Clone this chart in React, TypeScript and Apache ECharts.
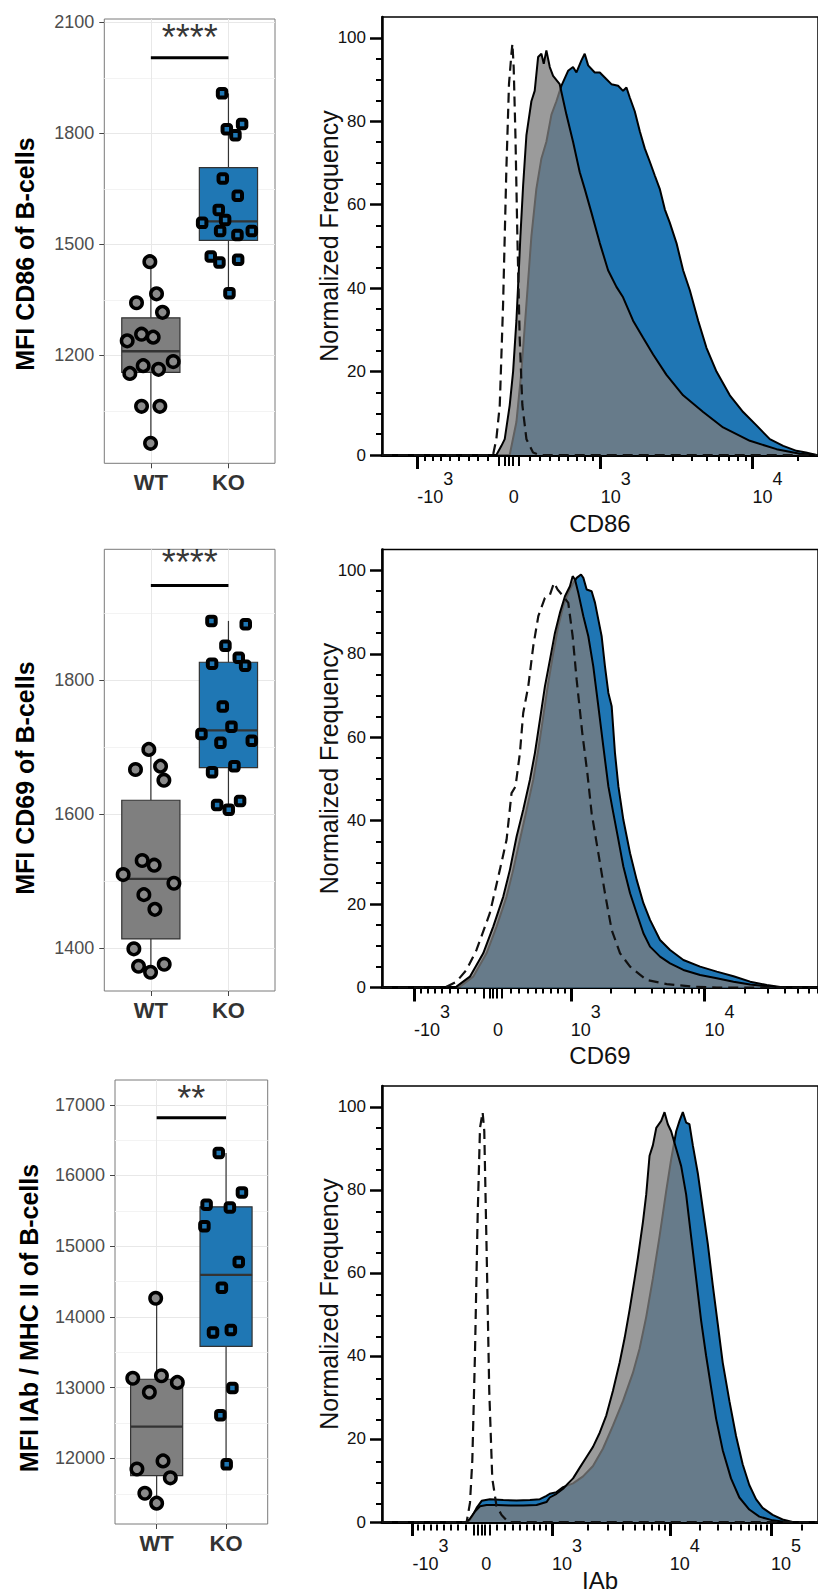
import React, { useEffect, useRef } from 'react';
import * as echarts from 'echarts';

const FONT = '"Liberation Sans", Arial, Helvetica, sans-serif';

// ---------- Box plot data (MFI values, jitter offsets in category units) ----------
const groups = ['WT', 'KO'];

const cd86WT = [1453, 1366, 1342, 1316, 1257, 1239, 1249, 1183, 1172, 1151, 1162, 1062, 1062, 962];
const cd86WTJitter = [-0.013, 0.073, -0.185, 0.15, -0.12, -0.305, 0.03, 0.288, -0.099, -0.271, 0.099, -0.12, 0.116, -0.004];
const cd86KO = [1908, 1811, 1825, 1795, 1678, 1631, 1593, 1558, 1566, 1536, 1525, 1536, 1467, 1451, 1458, 1368];
const cd86KOJitter = [-0.082, -0.021, 0.176, 0.09, -0.073, 0.12, -0.125, -0.339, -0.043, -0.107, 0.116, 0.301, -0.228, -0.116, 0.125, 0.013];

const cd69WT = [1697, 1667, 1672, 1651, 1531, 1524, 1510, 1497, 1480, 1458, 1399, 1373, 1364, 1376];
const cd69WTJitter = [-0.026, -0.198, 0.125, 0.168, -0.112, 0.043, -0.357, 0.297, -0.09, 0.052, -0.219, -0.159, -0.004, 0.172];
const cd69KO = [1889, 1884, 1852, 1825, 1834, 1822, 1761, 1720, 1731, 1707, 1710, 1672, 1663, 1614, 1620, 1607];
const cd69KOJitter = [-0.219, 0.223, -0.039, -0.211, 0.133, 0.215, -0.073, -0.348, 0.039, -0.103, 0.301, 0.077, -0.211, -0.146, 0.15, 0.004];

const iabWT = [14264, 13134, 13169, 13075, 12935, 11851, 11965, 11726, 11508, 11368];
const iabWTJitter = [-0.014, -0.344, 0.069, 0.298, -0.105, -0.284, 0.092, 0.197, -0.17, 0];
const iabKO = [16318, 15761, 15587, 15547, 15284, 14776, 14413, 13781, 13816, 12995, 12612, 11916];
const iabKOJitter = [-0.105, 0.229, -0.28, 0.055, -0.312, 0.183, -0.06, -0.188, 0.069, 0.092, -0.082, 0.009];

const cd86YTicks = [1200, 1500, 1800, 2100];
const cd86YMinor = [1050, 1350, 1650, 1950];
const cd69YTicks = [1400, 1600, 1800];
const cd69YMinor = [1500, 1700, 1900];
const iabYTicks = [12000, 13000, 14000, 15000, 16000, 17000];
const iabYMinor = [11500, 12500, 13500, 14500, 15500, 16500];

const sigLabels = ['****', '****', '**'];
const sigBarY = [2004, 1942, 16816];
const sigTextY = [2060, 1977, 17082];

// ---------- Histogram data: [display channel, normalized frequency] ----------
const cd86Ctrl = [[0, 0], [114.1, 0], [117.5, 3.8], [121.0, 11.9], [124.4, 36], [127.8, 68.6], [130.5, 89], [133.0, 96.2], [134.0, 98.6], [135.3, 93], [137.1, 76.7], [139.1, 52.4], [141.5, 28], [144.2, 12], [148.4, 3.8], [155.2, 0.6], [162.1, 0], [448, 0]];
const cd86WTHist = [[117.5, 0], [122.7, 2.2], [126.1, 3.8], [131.2, 11.9], [134.7, 20.0], [138.1, 32.2], [139.8, 40.3], [142.2, 52.4], [145.0, 64.6], [148.4, 76.7], [153.5, 84.8], [156.9, 87.3], [160.4, 95.4], [163.8, 96.2], [166.2, 93.8], [168.9, 97.0], [172.4, 93.0], [175.8, 90.9], [182.6, 88.9], [189.5, 81.6], [196.3, 75.1], [203.2, 67.8], [208.3, 63.8], [215.2, 58.1], [223.8, 50.8], [232.3, 44.3], [240.9, 40.3], [247.7, 37.8], [258.0, 32.2], [268.3, 28.1], [278.6, 24.1], [292.3, 19.2], [309.4, 14.3], [330.0, 10.3], [350.5, 6.6], [378.0, 3.4], [405.4, 1.4], [429.4, 0.3], [446.5, 0]];
const cd86KOHist = [[131.2, 0], [138.1, 7.9], [143.2, 20.0], [148.4, 36.2], [153.5, 52.4], [158.6, 63.8], [163.8, 71.1], [168.9, 75.1], [174.1, 81.6], [179.2, 84.8], [184.3, 88.5], [191.2, 92.1], [196.3, 93.0], [199.8, 91.7], [204.9, 94.6], [208.3, 96.2], [211.8, 93.4], [218.6, 91.7], [223.8, 91.7], [228.9, 90.5], [235.7, 88.9], [242.6, 88.5], [247.7, 87.3], [251.2, 88.1], [254.6, 85.7], [259.7, 82.4], [264.9, 77.6], [270.0, 73.5], [275.2, 70.3], [280.3, 67.0], [285.4, 63.8], [290.6, 58.9], [295.7, 55.7], [302.6, 50.8], [309.4, 44.3], [316.3, 39.5], [324.9, 32.2], [333.4, 25.7], [343.7, 20.0], [357.4, 14.3], [371.1, 10.3], [384.8, 7.1], [398.5, 3.8], [412.2, 2.2], [425.9, 1.0], [435.5, 0.6], [446.5, 0]];

const cd69Ctrl = [[0, 0], [59.4, 0], [66.3, 0.2], [76.5, 1.4], [86.8, 4.2], [97.1, 9.0], [110.8, 17.8], [121.1, 28.2], [128.0, 35.4], [133.1, 46.6], [137.2, 48.2], [141.7, 56.2], [145.1, 65.8], [150.3, 72.2], [155.4, 81.8], [160.6, 89.0], [167.4, 93.4], [172.6, 94.2], [176.7, 97.0], [180.4, 95.4], [186.3, 93.8], [191.4, 92.2], [195.9, 84.2], [200.0, 73.8], [205.8, 61.0], [211.0, 51.4], [215.4, 41.8], [222.3, 32.2], [229.1, 22.6], [236.0, 13.8], [244.6, 8.2], [254.9, 5.0], [272.0, 1.8], [292.6, 0.8], [320.0, 0.2], [344.0, 0], [448, 0]];
const cd69WTHist = [[69.7, 0], [76.5, 0.2], [90.3, 2.6], [104.0, 8.2], [114.3, 14.6], [124.6, 21.8], [131.4, 28.2], [138.3, 36.2], [145.1, 42.6], [152.0, 49.8], [157.1, 56.2], [162.3, 64.2], [167.4, 72.2], [172.6, 78.6], [177.7, 85.0], [182.8, 89.8], [188.0, 93.8], [193.1, 96.2], [195.9, 98.6], [198.3, 97.8], [201.7, 94.6], [206.9, 89.0], [212.0, 84.2], [217.1, 77.0], [222.3, 67.4], [227.4, 57.8], [232.6, 48.2], [237.7, 41.8], [242.9, 35.4], [248.0, 29.0], [254.9, 22.6], [261.7, 17.8], [268.6, 13.0], [275.4, 9.8], [285.7, 7.4], [296.0, 5.8], [309.7, 4.2], [326.9, 3.0], [344.0, 2.2], [361.2, 1.4], [378.3, 0.7], [395.4, 0.3], [412.6, 0]];
const cd69KOHist = [[73.1, 0], [80.0, 0.2], [93.7, 2.6], [107.4, 8.2], [117.7, 14.6], [128.0, 21.8], [134.8, 28.2], [141.7, 35.4], [148.6, 42.6], [155.4, 49.8], [160.6, 57.0], [165.7, 65.0], [170.8, 73.0], [176.0, 80.2], [181.1, 86.6], [186.3, 91.4], [191.4, 94.6], [196.6, 97.0], [200.0, 98.2], [204.5, 99.0], [206.9, 98.2], [210.3, 95.4], [215.4, 95.0], [218.9, 92.2], [222.3, 88.2], [225.7, 84.2], [229.1, 77.0], [232.6, 70.6], [236.0, 67.4], [239.4, 56.2], [242.9, 48.2], [248.0, 40.2], [254.9, 32.2], [261.7, 25.8], [268.6, 20.2], [275.4, 16.2], [285.7, 11.4], [296.0, 9.0], [309.7, 6.6], [326.9, 5.0], [344.0, 3.8], [361.2, 2.7], [378.3, 1.4], [395.4, 0.6], [412.6, 0]];

const iabCtrl = [[0, 0], [87.0, 0], [90.4, 4.6], [92.8, 14.8], [95.5, 40.1], [98.3, 73.8], [100.7, 94.9], [103.4, 98.7], [105.1, 94.1], [107.5, 65.4], [110.2, 31.6], [113.3, 10.5], [117.7, 3.8], [122.9, 1.7], [129.7, 0], [448, 0]];
const iabWTHist = [[87.0, 0], [90.4, 0.8], [95.5, 2.5], [100.7, 3.8], [107.5, 4.1], [117.7, 4.1], [131.4, 4.0], [145.1, 4.0], [158.8, 4.1], [169.0, 4.8], [172.4, 5.9], [179.3, 6.8], [186.1, 8.0], [191.2, 9.3], [196.3, 10.5], [203.2, 13.1], [210.0, 15.6], [216.8, 18.1], [223.7, 21.5], [230.5, 25.7], [237.3, 31.6], [244.2, 38.4], [249.3, 44.3], [254.4, 51.1], [259.6, 58.6], [263.0, 63.7], [268.1, 72.2], [271.5, 78.9], [274.9, 88.2], [278.3, 90.7], [281.8, 94.9], [286.9, 96.6], [290.3, 98.7], [293.7, 95.8], [297.1, 94.1], [302.3, 89.9], [307.4, 85.7], [312.5, 78.9], [317.6, 68.8], [322.8, 58.6], [327.9, 48.5], [333.0, 40.1], [338.1, 32.5], [343.3, 24.9], [350.1, 17.3], [358.6, 10.5], [367.2, 5.9], [377.4, 3.0], [387.7, 1.3], [401.4, 0.4], [415.0, 0]];
const iabKOHist = [[88.7, 0], [92.1, 1.1], [97.2, 3.4], [102.4, 5.1], [110.9, 5.5], [124.6, 5.3], [138.3, 5.2], [152.0, 5.3], [162.2, 5.5], [169.0, 6.3], [172.4, 6.8], [179.3, 7.2], [186.1, 8.4], [196.3, 9.3], [206.6, 11.0], [216.8, 13.5], [227.1, 17.7], [237.3, 23.2], [247.6, 29.1], [257.8, 35.9], [264.7, 41.8], [271.5, 49.4], [278.3, 58.6], [285.2, 68.8], [292.0, 79.7], [297.1, 87.3], [302.3, 94.1], [305.7, 96.6], [309.1, 98.7], [312.5, 96.2], [315.9, 95.8], [319.4, 90.7], [324.5, 84.0], [329.6, 75.5], [334.7, 67.1], [339.9, 57.0], [345.0, 47.7], [350.1, 38.4], [357.0, 29.1], [363.8, 20.7], [370.6, 13.9], [377.4, 8.9], [384.3, 5.5], [391.1, 3.4], [401.4, 1.7], [411.6, 0.6], [421.9, 0]];

// Major tick channels: -10^3, 0, 10^3, 10^4, (10^5)
const cd86TickPos = [36.3, 130.3, 224.7, 380.7];
const cd69TickPos = [33, 114, 194, 331.3];
const iabTickPos = [31.3, 102, 174.7, 295.7, 399.7];
const cd86TickLabels = ['-10^3', '0', '10^3', '10^4'];
const cd69TickLabels = ['-10^3', '0', '10^3', '10^4'];
const iabTickLabels = ['-10^3', '0', '10^3', '10^4', '10^5'];
const freqTicks = [0, 20, 40, 60, 80, 100];
const freqMinor = [5, 10, 15, 25, 30, 35, 45, 50, 55, 65, 70, 75, 85, 90, 95];

const CH_MAX = 448;

// ---------- helpers ----------
function boxStats(values: number[]) {
  const s = [...values].sort((a, b) => a - b);
  const q = (p: number) => {
    const h = (s.length - 1) * p;
    const lo = Math.floor(h);
    const hi = Math.min(lo + 1, s.length - 1);
    return s[lo] + (h - lo) * (s[hi] - s[lo]);
  };
  const q1 = q(0.25), med = q(0.5), q3 = q(0.75), iqr = q3 - q1;
  const lo = Math.min(...s.filter((v) => v >= q1 - 1.5 * iqr));
  const hi = Math.max(...s.filter((v) => v <= q3 + 1.5 * iqr));
  return [lo, q1, med, q3, hi];
}

const linFrac = (v: number) => Math.asinh(v / 1000) / Math.asinh(1);

function minorTicks(pos: number[]) {
  const [m1, z, p1, ...decs] = pos;
  const res: number[] = [];
  for (let v = 200; v <= 900; v += 100) {
    res.push(z + (p1 - z) * linFrac(v));
    res.push(z - (z - m1) * linFrac(v));
  }
  const dp = [p1, ...decs];
  const w = dp[dp.length - 1] - dp[dp.length - 2];
  while (dp[dp.length - 1] < CH_MAX) dp.push(dp[dp.length - 1] + w);
  for (let i = 0; i < dp.length - 1; i++) {
    const d = dp[i + 1] - dp[i];
    for (let m = 2; m <= 9; m++) res.push(dp[i] + d * Math.log10(m));
  }
  return res.filter((c) => c > 0 && c < CH_MAX);
}

function clusterTicks(pos: number[]) {
  const [m1, z, p1] = pos;
  const res = [z];
  [40, 100].forEach((v) => {
    res.push(z + (p1 - z) * linFrac(v));
    res.push(z - (z - m1) * linFrac(v));
  });
  return res;
}

function supLabel(s: string) {
  const [base, exp] = s.split('^');
  if (!exp) return `{e|\u00a0}\n{b|${base}}`;
  const st = base.startsWith('-') ? 'sn' : 'sp';
  return `{${st}|${exp}}\n{b|${base}}`;
}

const supRich = {
  b: { fontSize: 18, lineHeight: 18, color: '#111', fontFamily: FONT },
  e: { fontSize: 18, lineHeight: 18, color: '#111', fontFamily: FONT },
  sn: { fontSize: 18, lineHeight: 18, color: '#111', fontFamily: FONT, padding: [0, 0, 0, 26] },
  sp: { fontSize: 18, lineHeight: 18, color: '#111', fontFamily: FONT, padding: [0, 0, 0, 20] },
};

function buildOption() {
  const grids: any[] = [];
  const xAxes: any[] = [];
  const yAxes: any[] = [];
  const series: any[] = [];
  const addGrid = (rect: any, x: any, y: any) => {
    grids.push(rect);
    const gi = grids.length - 1;
    xAxes.push({ ...x, gridIndex: gi });
    yAxes.push({ ...y, gridIndex: gi });
    return gi;
  };
  const hiddenX = (min: number, max: number) => ({ type: 'value', min, max, show: false });

  const boxRow = (cfg: any) => {
    const { rect, yMin, yMax, majors, minors, title, titleGap, titleShift, wt, wtJ, ko, koJ, idx } = cfg;
    addGrid({ ...rect, show: false }, hiddenX(0.4, 2.6), {
      type: 'value', min: yMin, max: yMax,
      axisLine: { show: false }, axisTick: { show: false, customValues: minors },
      axisLabel: { show: false },
      splitLine: { show: true, lineStyle: { color: '#f3f3f3', width: 1 } },
    });
    const g = addGrid({ ...rect, show: true, borderColor: '#7a7a7a', borderWidth: 1 }, {
      type: 'value', min: 0.4, max: 2.6,
      axisLine: { show: false },
      axisTick: { show: true, customValues: [1, 2], length: 5, lineStyle: { color: '#444', width: 1 } },
      axisLabel: {
        customValues: [1, 2], formatter: (v: number) => groups[Math.round(v) - 1],
        fontSize: 22, fontWeight: 'bold', color: '#333', margin: 8, fontFamily: FONT,
      },
      splitLine: { show: true, lineStyle: { color: '#e8e8e8', width: 1 } },
    }, {
      type: 'value', min: yMin, max: yMax,
      name: title, nameLocation: 'middle', nameGap: titleGap,
      nameTextStyle: { fontSize: 25, fontWeight: 'bold', color: '#000', fontFamily: FONT, padding: [0, titleShift * 2, 0, 0] },
      axisLine: { show: false },
      axisTick: { show: true, customValues: majors, length: 5, lineStyle: { color: '#444', width: 1 } },
      axisLabel: { customValues: majors, formatter: (v: number) => String(v), fontSize: 18, color: '#4d4d4d', margin: 10, fontFamily: FONT },
      splitLine: { show: true, lineStyle: { color: '#e8e8e8', width: 1 } },
    });
    const boxColors = ['#7f7f7f', '#1f77b4'];
    series.push({
      type: 'custom', xAxisIndex: g, yAxisIndex: g,
      dimensions: ['x', 'lo', 'q1', 'med', 'q3', 'hi'],
      encode: { x: 0, y: [1, 2, 3, 4, 5] },
      data: [[1, ...boxStats(wt)], [2, ...boxStats(ko)]],
      renderItem: (params: any, api: any) => {
        const x = api.value(0);
        const lo = api.value(1), q1 = api.value(2), med = api.value(3), q3 = api.value(4), hi = api.value(5);
        const hw = 0.375;
        const tl = api.coord([x - hw, q3]);
        const br = api.coord([x + hw, q1]);
        const mL = api.coord([x - hw, med]);
        const mR = api.coord([x + hw, med]);
        const top = api.coord([x, hi]);
        const bot = api.coord([x, lo]);
        return {
          type: 'group',
          children: [
            { type: 'line', shape: { x1: top[0], y1: top[1], x2: top[0], y2: tl[1] }, style: { stroke: '#333', lineWidth: 1.2 } },
            { type: 'line', shape: { x1: bot[0], y1: bot[1], x2: bot[0], y2: br[1] }, style: { stroke: '#333', lineWidth: 1.2 } },
            { type: 'rect', shape: { x: tl[0], y: tl[1], width: br[0] - tl[0], height: br[1] - tl[1] }, style: { fill: boxColors[params.dataIndex], stroke: '#333', lineWidth: 1.2 } },
            { type: 'line', shape: { x1: mL[0], y1: mL[1], x2: mR[0], y2: mR[1] }, style: { stroke: '#333', lineWidth: 2.4 } },
          ],
        };
      },
      z: 2,
    });
    series.push({
      type: 'scatter', xAxisIndex: g, yAxisIndex: g,
      data: wt.map((v: number, i: number) => [1 + wtJ[i], v]),
      symbol: 'circle', symbolSize: 11.5,
      itemStyle: { color: '#8a8a8a', borderColor: '#000', borderWidth: 3.5, opacity: 1 },
      z: 3,
    });
    series.push({
      type: 'scatter', xAxisIndex: g, yAxisIndex: g,
      data: ko.map((v: number, i: number) => [2 + koJ[i], v]),
      symbol: 'roundRect', symbolSize: 8.5,
      itemStyle: { color: '#1f77b4', borderColor: '#000', borderWidth: 4, opacity: 1 },
      z: 3,
    });
    series.push({
      type: 'line', xAxisIndex: g, yAxisIndex: g,
      data: [[1, sigBarY[idx]], [2, sigBarY[idx]]],
      symbol: 'none', lineStyle: { color: '#000', width: 3 }, silent: true, z: 3,
    });
    series.push({
      type: 'scatter', xAxisIndex: g, yAxisIndex: g,
      data: [[1.5, sigTextY[idx]]], symbolSize: 0, silent: true,
      label: { show: true, position: 'inside', formatter: sigLabels[idx], fontSize: 36, color: '#000', fontFamily: FONT },
      z: 3,
    });
  };

  const histRow = (cfg: any) => {
    const { top, height, tickPos, tickLabels, name, nameGap, ctrl, wt, ko } = cfg;
    const rect = { left: 382, top, width: CH_MAX, height };
    const majorTicks = tickPos.filter((_: number, i: number) => tickLabels[i] !== '0');
    const g = addGrid({ ...rect, show: true, borderColor: '#000', borderWidth: 1.5 }, {
      type: 'value', min: 0, max: CH_MAX,
      name, nameLocation: 'middle', nameGap, nameMoveOverlap: false,
      nameTextStyle: { fontSize: 24, color: '#111', fontFamily: FONT },
      axisLine: { show: true, onZero: false, lineStyle: { color: '#000', width: 3 } },
      axisTick: { show: true, customValues: majorTicks, length: 14, lineStyle: { color: '#000', width: 3 } },
      axisLabel: {
        customValues: tickPos,
        formatter: (v: number) => {
          const i = tickPos.findIndex((p: number) => Math.abs(p - v) < 0.05);
          return i >= 0 ? supLabel(tickLabels[i]) : '';
        },
        align: 'left', margin: 15, rich: supRich,
      },
      splitLine: { show: false },
    }, {
      type: 'value', min: 0, max: 105,
      name: 'Normalized Frequency', nameLocation: 'middle', nameGap: 41, nameMoveOverlap: false,
      nameTextStyle: { fontSize: 25, color: '#111', fontFamily: FONT },
      axisLine: { show: true, lineStyle: { color: '#000', width: 2.5 } },
      axisTick: { show: true, customValues: freqTicks, length: 12, lineStyle: { color: '#000', width: 2.5 } },
      axisLabel: { customValues: freqTicks, fontSize: 17, color: '#111', margin: 16, fontFamily: FONT },
      splitLine: { show: false },
    });
    series.push({
      type: 'line', xAxisIndex: g, yAxisIndex: g, data: ko, symbol: 'none', showSymbol: false,
      lineStyle: { color: '#000', width: 2 }, areaStyle: { color: '#1f76b4', opacity: 1 }, z: 2,
    });
    series.push({
      type: 'line', xAxisIndex: g, yAxisIndex: g, data: wt, symbol: 'none', showSymbol: false,
      lineStyle: { color: '#000', width: 2 }, areaStyle: { color: 'rgba(125,125,125,0.77)', opacity: 1 }, z: 3,
    });
    series.push({
      type: 'line', xAxisIndex: g, yAxisIndex: g, data: ctrl, symbol: 'none', showSymbol: false,
      lineStyle: { color: '#111', width: 2.2, type: [10, 6] }, z: 4,
    });
    // minor ticks
    addGrid({ ...rect, show: false }, {
      type: 'value', min: 0, max: CH_MAX,
      axisLine: { show: false }, axisLabel: { show: false }, splitLine: { show: false },
      axisTick: { show: true, customValues: minorTicks(tickPos), length: 6, lineStyle: { color: '#000', width: 2 } },
    }, {
      type: 'value', min: 0, max: 105,
      axisLine: { show: false }, axisLabel: { show: false }, splitLine: { show: false },
      axisTick: { show: true, customValues: freqMinor, length: 6, lineStyle: { color: '#000', width: 2 } },
    });
    // cluster ticks around zero
    addGrid({ ...rect, show: false }, {
      type: 'value', min: 0, max: CH_MAX,
      axisLine: { show: false }, axisLabel: { show: false }, splitLine: { show: false },
      axisTick: { show: true, customValues: clusterTicks(tickPos), length: 11, lineStyle: { color: '#000', width: 2 } },
    }, { type: 'value', min: 0, max: 105, show: false });
  };

  boxRow({
    rect: { left: 104.3, top: 19, width: 170.7, height: 444.3 }, yMin: 908, yMax: 2109,
    majors: cd86YTicks, minors: cd86YMinor, title: 'MFI CD86 of B-cells', titleGap: 67, titleShift: 13,
    wt: cd86WT, wtJ: cd86WTJitter, ko: cd86KO, koJ: cd86KOJitter, idx: 0,
  });
  histRow({ top: 17, height: 438, tickPos: cd86TickPos, tickLabels: cd86TickLabels, name: 'CD86', nameGap: 56, ctrl: cd86Ctrl, wt: cd86WTHist, ko: cd86KOHist });

  boxRow({
    rect: { left: 104.3, top: 549.3, width: 170.7, height: 441.7 }, yMin: 1336, yMax: 1996,
    majors: cd69YTicks, minors: cd69YMinor, title: 'MFI CD69 of B-cells', titleGap: 67, titleShift: 8,
    wt: cd69WT, wtJ: cd69WTJitter, ko: cd69KO, koJ: cd69KOJitter, idx: 1,
  });
  histRow({ top: 549.5, height: 438, tickPos: cd69TickPos, tickLabels: cd69TickLabels, name: 'CD69', nameGap: 56, ctrl: cd69Ctrl, wt: cd69WTHist, ko: cd69KOHist });

  boxRow({
    rect: { left: 115, top: 1080, width: 152.7, height: 444 }, yMin: 11073, yMax: 17350,
    majors: iabYTicks, minors: iabYMinor, title: 'MFI IAb / MHC II of B-cells', titleGap: 74, titleShift: 16,
    wt: iabWT, wtJ: iabWTJitter, ko: iabKO, koJ: iabKOJitter, idx: 2,
  });
  histRow({ top: 1086, height: 438.5, tickPos: iabTickPos, tickLabels: iabTickLabels, name: 'IAb', nameGap: 46, ctrl: iabCtrl, wt: iabWTHist, ko: iabKOHist });

  return {
    animation: false,
    backgroundColor: '#fff',
    textStyle: { fontFamily: FONT },
    grid: grids,
    xAxis: xAxes,
    yAxis: yAxes,
    series,
  };
}

export default function App() {
  const ref = useRef<HTMLDivElement>(null);
  useEffect(() => {
    if (!ref.current) return;
    const chart = echarts.init(ref.current, null, { renderer: 'svg' });
    chart.setOption(buildOption() as any);
    return () => chart.dispose();
  }, []);
  return <div ref={ref} style={{ position: 'absolute', left: 0, top: 0, width: 818, height: 1593 }} />;
}
